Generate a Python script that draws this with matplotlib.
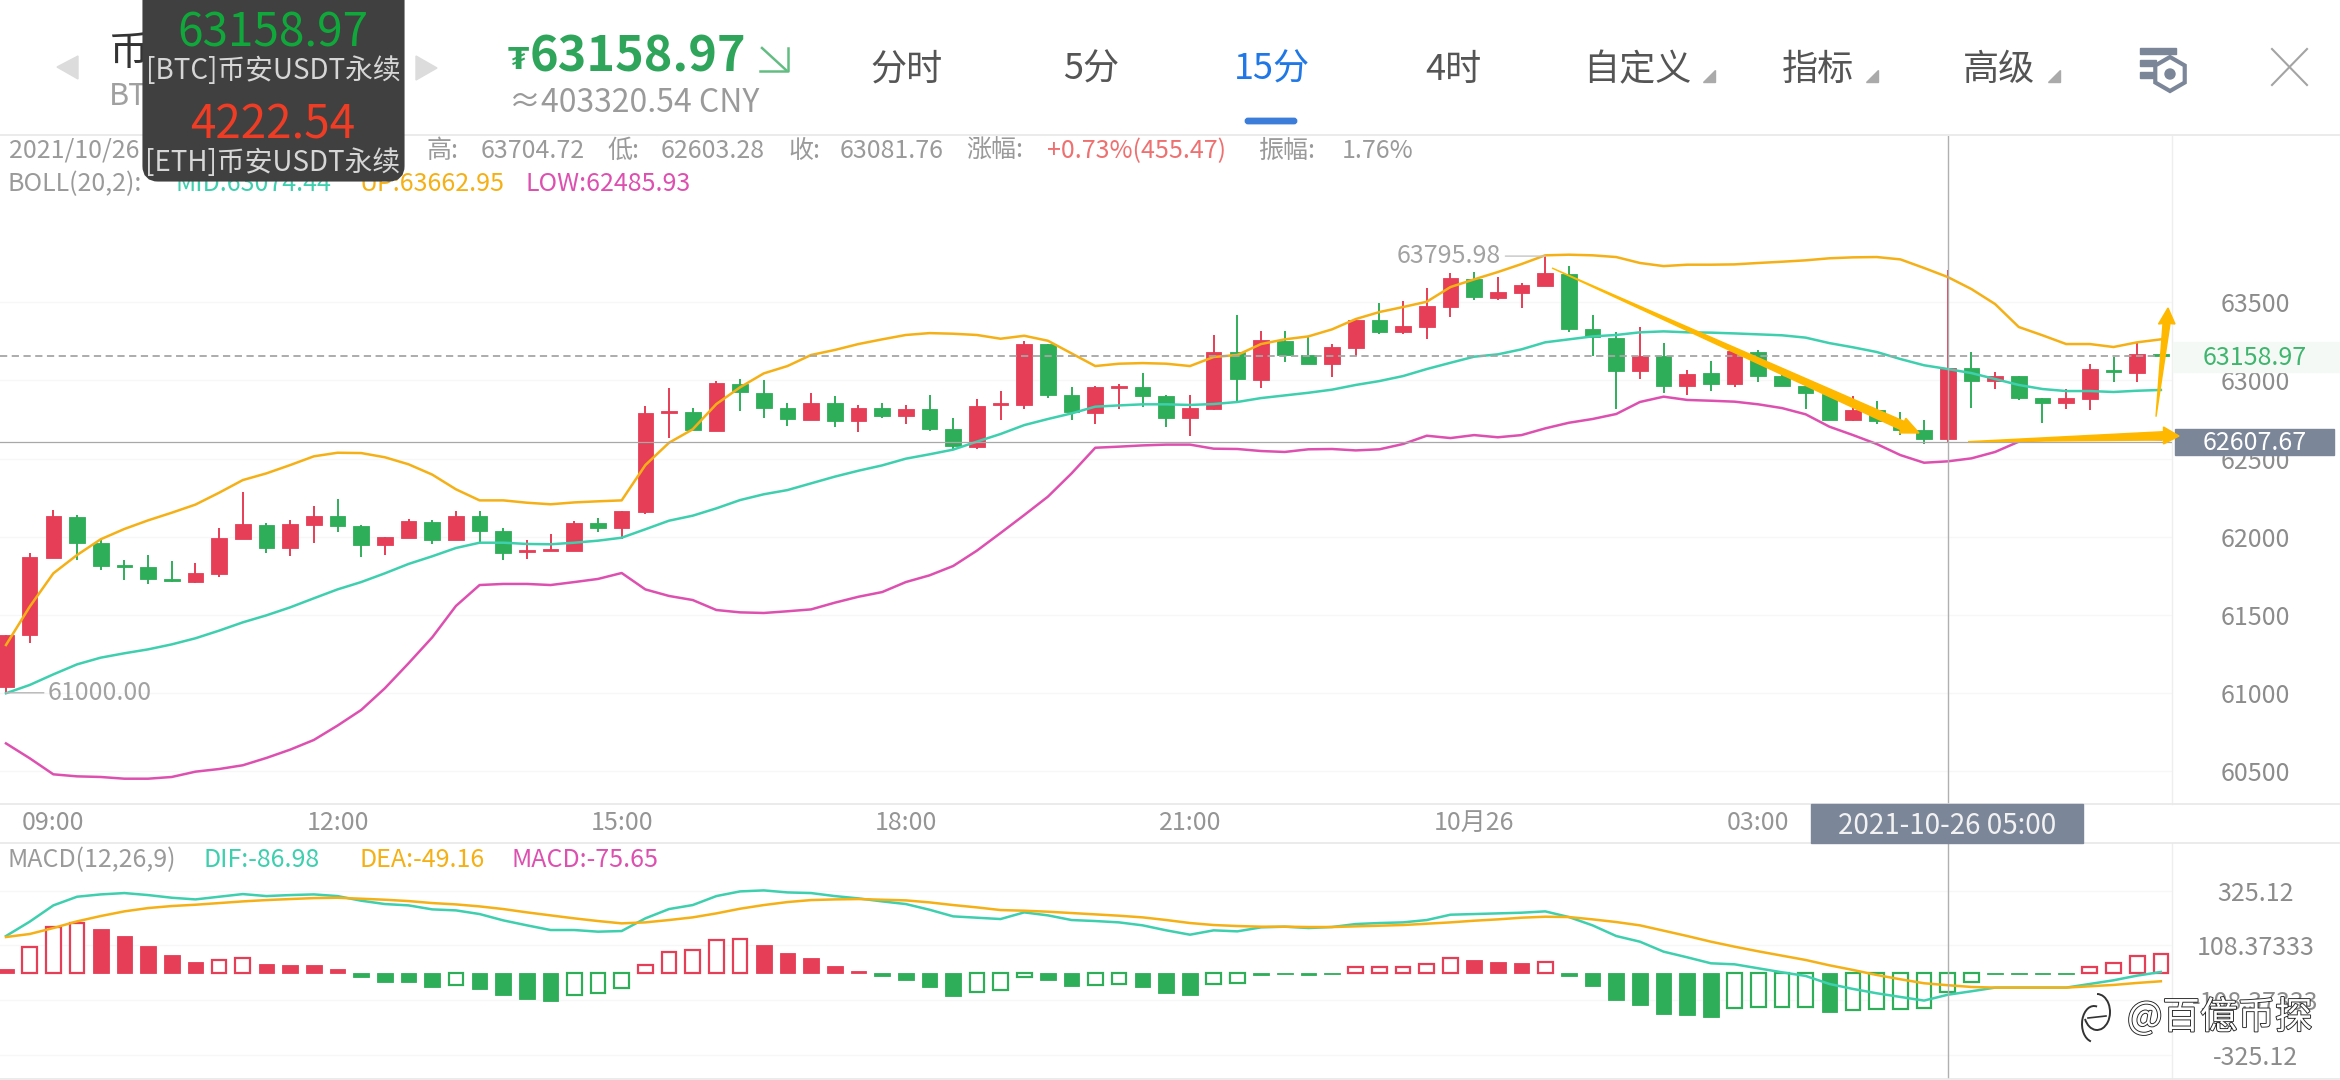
import numpy as np
import matplotlib
matplotlib.use("Agg")
import matplotlib.pyplot as plt
from matplotlib.patches import Polygon, Rectangle, FancyBboxPatch, Arc, RegularPolygon, Circle
import matplotlib.patheffects as pe

plt.rcParams['font.family'] = ['Noto Sans CJK SC', 'DejaVu Sans']

# 15 minute candles
opens = [61039,61370,61865,62126,61959,61818,61805,61729,61709,61761,
         61985,62074,61927,62074,62132,62068,61946,61991,62094,61978,
         62132,62036,61901,61908,61908,62087,62055,62158,62791,62798,
         62676,62977,62919,62823,62747,62855,62740,62823,62772,62817,
         62689,62574,62842,62842,63233,62906,62791,62951,62958,62900,
         62759,62817,63182,63003,63252,63163,63105,63207,63387,63310,
         63342,63470,63649,63528,63560,63604,63681,63329,63271,63060,
         63156,62964,63047,62977,63182,63028,62964,62913,62747,62811,
         62740,62682,62626.39,63079,62996,63028,62887,62855,62881,63067,
         63047,63169]
highs = [61370,61893,62170,62138,61978,61850,61882,61844,61831,62053,
         62286,62087,62106,62196,62241,62074,61998,62113,62106,62164,
         62164,62055,61978,62017,62100,62119,62164,62836,62951,62823,
         62996,63009,63003,62855,62919,62900,62842,62855,62842,62906,
         62759,62881,62932,63252,63233,62958,62964,62977,63047,62906,
         62906,63291,63419,63316,63316,63278,63233,63387,63496,63508,
         63592,63688,63694,63662,63624,63796,63732,63419,63310,63342,
         63239,63067,63124,63188,63195,63035,62964,62939,62900,62868,
         62798,62747,63704.72,63182,63054,63028,62887,62945,63105,63150,
         63239,63173]
lows = [60997,61317,61865,61850,61786,61722,61697,61709,61703,61741,
        61985,61895,61876,61957,62030,61869,61882,61991,61953,61978,
        61959,61850,61857,61908,61908,62030,61985,62145,62631,62683,
        62676,62804,62759,62708,62747,62702,62670,62759,62721,62676,
        62554,62561,62747,62817,62887,62747,62721,62817,62830,62702,
        62644,62811,62862,62951,63118,63105,63022,63156,63297,63297,
        63265,63406,63515,63515,63464,63604,63310,63156,62817,63009,
        62919,62906,62932,62958,62990,62964,62817,62747,62740,62721,
        62650,62593,62603.28,62823,62945,62875,62727,62817,62811,62990,
        62990,63137]
closes = [61370,61872,62132,61959,61812,61808,61729,61716,61767,61991,
          62081,61927,62081,62132,62068,61946,61998,62100,61978,62132,
          62036,61895,61914,61921,62087,62055,62164,62791,62804,62683,
          62983,62926,62823,62753,62855,62740,62823,62772,62817,62689,
          62580,62836,62855,63233,62906,62798,62958,62964,62900,62759,
          62823,63182,63009,63259,63163,63105,63214,63387,63310,63348,
          63476,63656,63534,63566,63611,63688,63329,63278,63060,63156,
          62964,63041,62977,63188,63028,62964,62919,62747,62811,62740,
          62682,62625,63081.76,62996,63028,62887,62855,62887,63073,63054,
          63169,63158.97]

boll_up = [61306,61551,61765,61882,61983,62049,62104,62153,62205,62281,
           62362,62405,62458,62514,62537,62535,62508,62463,62397,62303,
           62232,62232,62217,62207,62219,62226,62232,62458,62601,62687,
           62849,62956,63045,63092,63163,63195,63233,63263,63291,63303,
           63299,63291,63267,63286,63254,63173,63092,63107,63111,63107,
           63092,63150,63163,63233,63263,63282,63327,63393,63438,63470,
           63504,63598,63647,63694,63745,63801,63805,63801,63790,63752,
           63732,63741,63741,63743,63752,63760,63769,63782,63788,63790,
           63775,63720,63662,63585,63489,63342,63289,63233,63233,63214,
           63244,63263]
boll_mid = [60997,61050,61118,61182,61225,61253,61278,61310,61349,61398,
            61451,61496,61547,61605,61662,61709,61765,61825,61874,61927,
            61961,61961,61953,61951,61961,61974,61993,62047,62102,62134,
            62181,62234,62271,62298,62341,62384,62422,62456,62499,62527,
            62557,62608,62657,62714,62753,62789,62832,62840,62847,62847,
            62843,62849,62862,62887,62904,62921,62941,62971,62996,63028,
            63073,63113,63152,63167,63199,63244,63263,63282,63291,63308,
            63314,63308,63306,63301,63295,63289,63274,63239,63212,63182,
            63137,63097,63073,63047,63009,62971,62945,62932,62932,62926,
            62934,62939]
boll_low = [60676,60581,60478,60465,60461,60450,60450,60461,60495,60512,
            60536,60583,60636,60698,60790,60890,61029,61189,61355,61556,
            61690,61697,61697,61690,61709,61729,61767,61662,61620,61594,
            61530,61515,61511,61522,61534,61577,61615,61645,61709,61752,
            61812,61910,62023,62138,62256,62405,62569,62576,62584,62589,
            62589,62563,62561,62548,62542,62559,62561,62552,62559,62593,
            62646,62631,62650,62636,62650,62693,62729,62753,62785,62862,
            62896,62875,62870,62864,62847,62823,62783,62704,62650,62593,
            62522,62473,62482,62501,62542,62608,62619,62629,62629,62636,
            62629,62623]

macd_bar = [15.2,103.5,182.7,198.5,173.4,145.7,106.2,70.6,42.9,52.1,
            60.0,35.0,31.0,31.0,15.2,-15.2,-36.3,-36.3,-56.1,-49.5,
            -64.0,-87.7,-103.5,-111.5,-87.7,-79.8,-61.3,29.7,83.8,91.7,
            131.2,135.2,110.1,78.5,58.7,27.0,7.3,-11.2,-28.4,-56.1,
            -91.7,-77.2,-69.2,-15.2,-28.4,-52.1,-49.5,-45.5,-56.1,-79.8,
            -87.7,-45.5,-41.5,-8.6,-4.6,-8.6,-4.6,23.1,23.1,23.1,
            33.6,57.4,50.8,42.9,38.9,41.5,-11.2,-52.1,-107.5,-127.3,
            -162.9,-166.9,-174.8,-139.2,-135.2,-135.2,-135.2,-155.0,-147.1,-143.1,
            -143.1,-140.5,-75.65,-36.3,-4.6,-4.6,-4.6,-4.6,24.4,40.2,
            65.3,73.2]
# 1 = drawn as an outline in the picture
macd_hollow = [0,1,1,1,0,0,0,0,0,1,
               1,0,0,0,0,0,0,0,0,1,
               0,0,0,0,1,1,1,1,1,1,
               1,1,0,0,0,0,0,0,0,0,
               0,1,1,1,0,0,1,1,0,0,
               0,1,1,0,0,0,0,1,1,1,
               1,1,0,0,0,1,0,0,0,0,
               0,0,0,1,1,1,1,0,1,1,
               1,1,1,1,0,0,0,0,1,1,
               1,1]
dif = [145.7,202.5,267.1,301.4,310.6,315.9,308.0,297.4,290.8,301.4,
       311.9,304.0,308.0,310.6,304.0,285.6,272.4,267.1,251.3,247.3,
       232.8,207.7,188.0,169.5,169.5,162.9,165.5,215.7,252.6,268.4,
       304.0,322.5,326.5,318.5,315.9,304.0,294.8,282.9,272.4,249.9,
       223.6,218.3,213.0,239.4,227.5,209.1,205.1,199.8,188.0,168.2,
       151.0,168.2,164.2,180.0,182.7,177.4,181.4,193.2,197.2,199.8,
       209.1,230.2,232.8,235.4,238.1,243.4,220.9,188.0,145.7,123.3,
       83.8,61.3,37.6,33.6,17.8,2.0,-12.5,-44.2,-64.0,-81.1,
       -95.7,-110.1,-86.98,-73.2,-58.7,-58.7,-58.7,-58.7,-44.2,-29.7,
       -11.2,3.3]
dea = [141.8,153.7,177.4,203.8,224.9,243.4,256.5,264.5,269.7,276.3,
       282.9,288.2,292.2,296.1,297.4,293.5,289.5,284.2,276.3,271.0,
       263.1,252.6,239.4,227.5,215.7,205.1,195.9,199.8,209.1,219.6,
       235.4,253.9,268.4,280.3,288.2,290.8,292.2,289.5,286.9,279.0,
       268.4,259.2,248.6,246.0,242.0,236.8,231.5,226.2,219.6,209.1,
       197.2,189.3,185.3,182.7,182.7,181.4,181.4,184.0,186.6,189.3,
       194.5,199.8,206.4,211.7,218.3,222.2,220.9,211.7,201.1,188.0,
       166.9,145.7,123.3,103.5,85.1,67.9,50.8,29.7,11.2,-8.6,
       -25.7,-41.5,-49.16,-56.1,-58.7,-58.7,-58.7,-58.7,-53.4,-48.1,
       -40.2,-33.6]

time_ticks = [2, 14, 26, 38, 50, 62, 74]
time_labels = ['09:00', '12:00', '15:00', '18:00', '21:00', '10月26', '03:00']
price_ticks = [60500, 61000, 61500, 62000, 62500, 63000, 63500]
macd_ticks = [325.12, 108.37333, -108.37333, -325.12]
macd_labels = ['325.12', '108.37333', '-108.37333', '-325.12']
last_price = 63158.97
cross_price = 62607.67
cross_i = 82

RED = '#e63e57'
GREEN = '#2fae5a'
TEAL = '#3dcfae'
ORANGE = '#f5b016'
MAGENTA = '#dd50b0'
GRAY = '#a2a2a2'
SLATE = '#7b8699'
ARROW = '#ffb800'
W, H = 2340, 1080


def px_axes(fig, x0, y0, x1, y1):
    return fig.add_axes([x0 / W, 1 - y1 / H, (x1 - x0) / W, (y1 - y0) / H])


def style_axes(ax):
    for s in ['top', 'left', 'bottom']:
        ax.spines[s].set_visible(False)
    ax.spines['right'].set_color('#eeeeee')
    ax.spines['right'].set_linewidth(1.0)
    ax.set_xlim(-0.253, 91.47)
    ax.yaxis.tick_right()
    ax.grid(axis='y', color='#f7f7f7', linewidth=1.0, zorder=0)
    ax.set_axisbelow(True)


fig = plt.figure(figsize=(W / 100, H / 100), dpi=100, facecolor='white')
x = np.arange(len(opens))

# main price pane
ax = px_axes(fig, 0, 136, 2172, 804)
style_axes(ax)
ax.set_ylim(60288, 64565)
ax.set_yticks(price_ticks)
ax.set_yticklabels([str(p) for p in price_ticks], ha='center', fontsize=18, color='#8c8c8c')
ax.tick_params(axis='y', length=0, pad=60)
ax.set_xticks(time_ticks)
ax.set_xticklabels(time_labels, fontsize=18, color='#959595')
ax.tick_params(axis='x', length=0, pad=4)

op = np.array(opens)
cl = np.array(closes)
colors = [RED if c >= o else GREEN for o, c in zip(opens, closes)]
ax.vlines(x, lows, highs, colors=colors, linewidth=1.4, zorder=2)
ax.bar(x, np.abs(cl - op), bottom=np.minimum(op, cl), width=0.66, color=colors,
       edgecolor=colors, linewidth=0.6, zorder=2.5)
ax.plot(x, boll_mid, color=TEAL, linewidth=1.8, zorder=3)
ax.plot(x, boll_up, color=ORANGE, linewidth=1.8, zorder=3)
ax.plot(x, boll_low, color=MAGENTA, linewidth=1.8, zorder=3)

ax.plot([x[0] - 0.25, x[-1]], [last_price, last_price], color='#a6a6a6', linewidth=1.3,
        linestyle=(0, (4, 2.5)), zorder=4)
ax.axhline(cross_price, color='#a8a8a8', linewidth=0.9, zorder=4)
ax.axvline(cross_i, color='#b0b0b0', linewidth=1.0, zorder=4)

ax.annotate('61000.00', xy=(0, 61000), xytext=(42, 0), textcoords='offset pixels', fontsize=18,
            color=GRAY, va='center', ha='left', zorder=5,
            arrowprops=dict(arrowstyle='-', color='#b5b5b5', linewidth=1.0, shrinkA=1, shrinkB=0))
ax.annotate('63795.98', xy=(65, 63796), xytext=(-44, 0), textcoords='offset pixels', fontsize=18,
            color=GRAY, va='center', ha='right', zorder=5,
            arrowprops=dict(arrowstyle='-', color='#c5c5c5', linewidth=1.0, shrinkA=1, shrinkB=0))

# macd pane
ax2 = px_axes(fig, 0, 843, 2172, 1079)
style_axes(ax2)
ax2.set_ylim(-420.8, 514.3)
ax2.set_xticks([])
ax2.set_yticks(macd_ticks)
ax2.set_yticklabels(macd_labels, ha='center', fontsize=18, color='#8c8c8c')
ax2.tick_params(axis='y', length=0, pad=60)

bar_colors = [RED if v >= 0 else GREEN for v in macd_bar]
for i, v in enumerate(macd_bar):
    if macd_hollow[i]:
        ax2.bar(i, v, width=0.62, facecolor='white', edgecolor=bar_colors[i], linewidth=1.6, zorder=2)
    else:
        ax2.bar(i, v, width=0.66, color=bar_colors[i], edgecolor=bar_colors[i], linewidth=0.6, zorder=2)
ax2.plot(x, dif, color=TEAL, linewidth=1.8, zorder=3)
ax2.plot(x, dea, color=ORANGE, linewidth=1.8, zorder=3)
ax2.axvline(cross_i, color='#b0b0b0', linewidth=1.0, zorder=4)

# everything that is app chrome goes on a pixel overlay
ui = fig.add_axes([0, 0, 1, 1], zorder=10)
ui.set_xlim(0, W)
ui.set_ylim(H, 0)
ui.axis('off')


def label(px, py, s, color='#9a9a9a', size=18, ha='left', z=3, **kw):
    return ui.text(px, py, s, color=color, fontsize=size, ha=ha, va='center', zorder=z, **kw)


for yy, c in [(135, '#e8e8e8'), (804, '#e8e8e8'), (843, '#e8e8e8'), (1079, '#e8e8e8')]:
    ui.plot([0, W], [yy, yy], color=c, linewidth=1.2, zorder=1)

# top bar
label(108, 53, '币安USDT永续', color='#333333', size=29)
label(109, 96, 'BTC/USDT', color='#a0a0a0', size=22)
ui.add_patch(Polygon([[78, 56], [78, 79], [57, 67]], color='#dcdcdc', zorder=1))
ui.add_patch(Polygon([[416, 56], [416, 80], [437, 68]], color='#dcdcdc', zorder=1))
label(508, 60, '₮', color='#2ea55a', size=22, weight='bold')
label(530, 57, '63158.97', color='#2ea55a', size=35, weight='bold')
ui.plot([762, 786], [48, 70], color='#63bd83', linewidth=1.8, zorder=3)
ui.plot([788, 788, 760], [48, 71, 71], color='#63bd83', linewidth=1.8, zorder=3)
label(509, 103, '≈403320.54 CNY', color='#9a9a9a', size=23)

tabs = ['分时', '5分', '15分', '4时', '自定义', '指标', '高级']
tab_x = [907, 1091, 1272, 1453, 1637, 1818, 1999]
for name, tx in zip(tabs, tab_x):
    label(tx, 70, name, color='#1f78e6' if name == '15分' else '#555555', size=26, ha='center')
for tx in [1703, 1866, 2048]:
    ui.add_patch(Polygon([[tx, 82], [tx + 12, 82], [tx + 12, 70]], color='#aaaaaa', zorder=3))
ui.add_patch(FancyBboxPatch((1246, 119), 50, 4, boxstyle='round,pad=0,rounding_size=2',
                            facecolor='#3b7dd8', edgecolor='#3b7dd8', linewidth=2, zorder=3))

# filter icon and close button
for by, bw in [(51, 36), (63, 16), (75, 14)]:
    ui.add_patch(Rectangle((2140, by - 3), bw, 6, color=SLATE, zorder=3))
ui.add_patch(RegularPolygon((2170, 74), 6, radius=17, orientation=0, facecolor='white',
                            edgecolor=SLATE, linewidth=3, zorder=3))
ui.add_patch(Circle((2170, 74), 5, facecolor=SLATE, edgecolor=SLATE, zorder=4))
ui.plot([2272, 2307], [49, 85], color='#a4a4a4', linewidth=1.5, zorder=3)
ui.plot([2272, 2307], [85, 49], color='#a4a4a4', linewidth=1.5, zorder=3)

# info rows
label(9, 151, '2021/10/26 05:00 开: 62626.39', size=18)
label(427, 151, '高:', size=18)
label(481, 151, '63704.72', size=18)
label(607, 151, '低:', size=18)
label(661, 151, '62603.28', size=18)
label(788, 151, '收:', size=18)
label(840, 151, '63081.76', size=18)
label(966, 151, '涨幅:', size=18)
label(1047, 151, '+0.73%(455.47)', color='#ee7070', size=18)
label(1258, 151, '振幅:', size=18)
label(1342, 151, '1.76%', size=18)
label(8, 184, 'BOLL(20,2):', size=18)
label(176, 184, 'MID:63074.44', color=TEAL, size=18)
label(359, 184, 'UP:63662.95', color=ORANGE, size=18)
label(525, 184, 'LOW:62485.93', color=MAGENTA, size=18)

label(8, 860, 'MACD(12,26,9)', size=18)
label(204, 860, 'DIF:-86.98', color=TEAL, size=18)
label(359, 860, 'DEA:-49.16', color=ORANGE, size=18)
label(512, 860, 'MACD:-75.65', color=MAGENTA, size=18)

# floating ticker
ui.add_patch(FancyBboxPatch((148, -20), 251, 196, boxstyle='round,pad=0,rounding_size=10',
                            facecolor='#404040', edgecolor='#404040', linewidth=8, zorder=6))
label(273, 33, '63158.97', color='#10a83a', size=33, ha='center', z=7)
label(273, 71, '[BTC]币安USDT永续', color='#d6d6d6', size=20, ha='center', z=7)
label(273, 125, '4222.54', color='#ee3d24', size=33, ha='center', z=7)
label(273, 163, '[ETH]币安USDT永续', color='#d6d6d6', size=20, ha='center', z=7)

# price tags and crosshair date
ui.add_patch(Rectangle((2173, 342), 167, 30, color='#f4f9f6', zorder=0.5))
label(2255, 358, '63158.97', color='#3fb56e', size=18, ha='center')
ui.add_patch(Rectangle((2175, 429), 159, 26, color=SLATE, zorder=3))
label(2255, 443, '62607.67', color='white', size=18, ha='center', z=4)
ui.add_patch(Rectangle((1811, 804), 272, 39, color=SLATE, zorder=3))
label(1947, 826, '2021-10-26 05:00', color='#f2f2f2', size=20, ha='center', z=4)

# hand drawn arrows on the screenshot
ui.add_patch(Polygon([[1552, 268], [1904.4, 421.5], [1905.9, 418.3], [1919, 433],
                      [1899.3, 432.9], [1900.8, 429.7]], color=ARROW, zorder=5))
ui.add_patch(Polygon([[1968, 441.7], [2163.5, 440], [2163.5, 444], [2179, 436],
                      [2163.5, 427], [2163.5, 431.7]], color=ARROW, zorder=5))
ui.add_patch(Polygon([[2156, 416.7], [2163, 323.5], [2158.5, 324], [2168, 308],
                      [2175, 324], [2170, 323.5]], color=ARROW, zorder=5))

# watermark
stroke = [pe.withStroke(linewidth=1.3, foreground='#222222')]
label(2127, 1018, '@百億币探', color='white', size=27, z=8, path_effects=stroke)
ui.add_patch(Arc((2097, 1012), 26, 36, theta1=270, theta2=150, color='#333333', linewidth=1.4, zorder=8))
ui.add_patch(Arc((2094, 1024), 24, 36, theta1=100, theta2=280, color='#333333', linewidth=1.4, zorder=8))
ui.plot([2088, 2106], [1018, 1016], color='#333333', linewidth=1.2, zorder=8)

fig.savefig('out.png', dpi=100)
